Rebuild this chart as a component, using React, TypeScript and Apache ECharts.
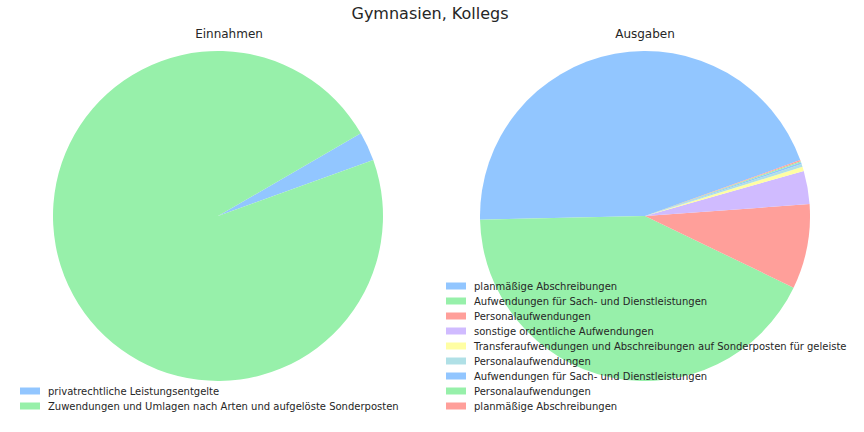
import React, { useEffect, useRef } from "react";
import * as echarts from "echarts";

const suptitle = "Gymnasien, Kollegs";
const leftTitle = "Einnahmen";
const rightTitle = "Ausgaben";

const einnahmenLabels = [
  "privatrechtliche Leistungsentgelte",
  "Zuwendungen und Umlagen nach Arten und aufgelöste Sonderposten",
];
const einnahmenValues = [2.85, 97.15];

const ausgabenLabels = [
  "planmäßige Abschreibungen",
  "Aufwendungen für Sach- und Dienstleistungen",
  "Personalaufwendungen",
  "sonstige ordentliche Aufwendungen",
  "Transferaufwendungen und Abschreibungen auf Sonderposten für geleiste",
  "Personalaufwendungen",
  "Aufwendungen für Sach- und Dienstleistungen",
  "Personalaufwendungen",
  "planmäßige Abschreibungen",
];
const ausgabenValues = [44.85, 42.5, 8.3, 3.25, 0.42, 0.28, 0.17, 0.12, 0.11];

const palette = ["#92c6ff", "#97f0aa", "#ff9f9a", "#d0bbff", "#fffea3", "#b0e0e6"];

const FONT = "DejaVu Sans";
const TEXT = "#262626";

export default function App() {
  const ref = useRef<HTMLDivElement>(null);
  useEffect(() => {
    document.body.style.margin = "0";
    if (!ref.current) return;
    const chart = echarts.init(ref.current, undefined, { renderer: "svg" });

    const names: Record<string, string> = {};
    const eData = einnahmenValues.map((v, i) => {
      const id = "e" + i;
      names[id] = einnahmenLabels[i];
      return { name: id, value: v, itemStyle: { color: palette[i % palette.length] } };
    });
    const aData = ausgabenValues.map((v, i) => {
      const id = "a" + i;
      names[id] = ausgabenLabels[i];
      return { name: id, value: v, itemStyle: { color: palette[i % palette.length] } };
    });

    const legendCommon = {
      orient: "vertical" as const,
      icon: "rect",
      itemWidth: 20,
      itemHeight: 7,
      itemGap: 0,
      padding: 0,
      formatter: (n: string) => names[n] ?? n,
      textStyle: {
        fontFamily: FONT,
        fontSize: 10,
        color: TEXT,
        lineHeight: 15,
        padding: [0, 0, 0, 3],
      },
      selectedMode: false,
    };

    const pieCommon = {
      type: "pie" as const,
      radius: 165,
      startAngle: 19.8,
      clockwise: false,
      label: { show: false },
      labelLine: { show: false },
      avoidLabelOverlap: false,
      itemStyle: { borderWidth: 0 },
      emphasis: { disabled: true },
    };

    chart.setOption({
      animation: false,
      title: [
        {
          text: suptitle,
          left: 430,
          top: 5,
          textAlign: "center",
          padding: 0,
          textStyle: { fontFamily: FONT, fontSize: 16, fontWeight: "normal", color: TEXT },
        },
        {
          text: leftTitle,
          left: 229,
          top: 28,
          textAlign: "center",
          padding: 0,
          textStyle: { fontFamily: FONT, fontSize: 12, fontWeight: "normal", color: TEXT },
        },
        {
          text: rightTitle,
          left: 645,
          top: 28,
          textAlign: "center",
          padding: 0,
          textStyle: { fontFamily: FONT, fontSize: 12, fontWeight: "normal", color: TEXT },
        },
      ],
      legend: [
        { ...legendCommon, left: 20, top: 383.5, data: eData.map((d) => d.name) },
        { ...legendCommon, left: 446, top: 278.5, data: aData.map((d) => d.name) },
      ],
      series: [
        { ...pieCommon, name: leftTitle, center: [218, 216], data: eData },
        { ...pieCommon, name: rightTitle, center: [645, 216], data: aData },
      ],
    });
    return () => chart.dispose();
  }, []);
  return <div ref={ref} style={{ width: 864, height: 432 }} />;
}
